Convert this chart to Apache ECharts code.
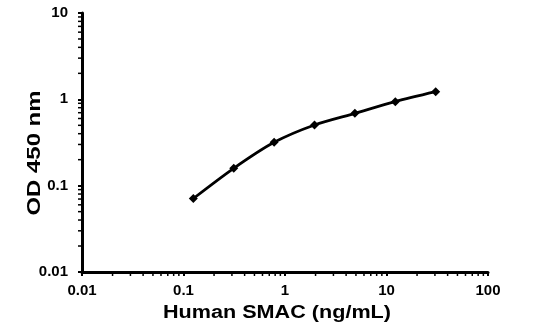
<!DOCTYPE html>
<html><head><meta charset="utf-8">
<script src="https://cdn.jsdelivr.net/npm/echarts@6/dist/echarts.min.js"></script>
<style>html,body{margin:0;padding:0;background:#fff}#c{width:543px;height:330px}</style>
</head><body><div id="c"></div>
<script>
const concentrations = [0.125, 0.3125, 0.78125, 1.953, 4.883, 12.21, 30.52];
const odValues = [0.071, 0.159, 0.318, 0.505, 0.689, 0.94, 1.225];
const xTickLabels = ['0.01', '0.1', '1', '10', '100'];
const yTickLabels = ['0.01', '0.1', '1', '10'];
const xTitle = 'Human SMAC (ng/mL)';
const yTitle = 'OD 450 nm';

const FONT = '"Liberation Sans", Arial, sans-serif';
const chart = echarts.init(document.getElementById('c'), null, {renderer: 'canvas'});
function fmt(list){ return v => { const s = list.find(t => Math.abs(Math.log10(parseFloat(t)) - Math.log10(v)) < 1e-6); return s || ''; }; }
const option = {
  animation: false,
  grid: {left: 82, right: 55, top: 13, bottom: 58, containLabel: false},
  xAxis: {
    type: 'log', logBase: 10, min: 0.01, max: 100,
    axisLine: {onZero: false, lineStyle: {color: '#000', width: 3}},
    axisTick: {show: true, inside: false, length: 4, lineStyle: {color: '#000', width: 2}},
    splitLine: {show: false},
    axisLabel: {fontFamily: FONT, fontWeight: 'bold', fontSize: 15, color: '#000', margin: 11, formatter: fmt(xTickLabels)}
  },
  yAxis: {
    type: 'log', logBase: 10, min: 0.01, max: 10,
    axisLine: {onZero: false, lineStyle: {color: '#000', width: 3}},
    axisTick: {show: true, inside: false, length: 4, lineStyle: {color: '#000', width: 2}},
    splitLine: {show: false},
    axisLabel: {fontFamily: FONT, fontWeight: 'bold', fontSize: 15, color: '#000', margin: 14, formatter: fmt(yTickLabels)}
  },
  series: [{
    type: 'line',
    data: concentrations.map((c, i) => [c, odValues[i]]),
    smooth: 0.3,
    symbol: 'diamond', symbolSize: 9,
    itemStyle: {color: '#000'},
    lineStyle: {color: '#000', width: 2.8}
  }]
};
chart.setOption(option);

const g = [];
// axis titles (wide bold lettering, as in the reference)
g.push({type: 'text', x: 277, y: 313, scaleX: 1.2, silent: true,
  style: {text: xTitle, font: 'bold 18px ' + FONT, fill: '#000', align: 'center', verticalAlign: 'middle'}});
g.push({type: 'text', x: 35, y: 153, rotation: Math.PI / 2, scaleX: 1.33, silent: true,
  style: {text: yTitle, font: 'bold 18px ' + FONT, fill: '#000', align: 'center', verticalAlign: 'middle'}});

// minor log ticks (2..9 in each decade), positioned through the library's scales
const yBase = chart.convertToPixel({yAxisIndex: 0}, 0.01);
const xBase = chart.convertToPixel({xAxisIndex: 0}, 0.01);
for (let e = -2; e < 2; e++) {
  for (let m = 2; m <= 9; m++) {
    const px = chart.convertToPixel({xAxisIndex: 0}, m * Math.pow(10, e));
    g.push({type: 'line', shape: {x1: px, y1: yBase + 1, x2: px, y2: yBase + 4}, style: {stroke: '#000', lineWidth: 1.5}, silent: true});
  }
}
for (let e = -2; e < 1; e++) {
  for (let m = 2; m <= 9; m++) {
    const py = chart.convertToPixel({yAxisIndex: 0}, m * Math.pow(10, e));
    g.push({type: 'line', shape: {x1: xBase - 4, y1: py, x2: xBase - 1, y2: py}, style: {stroke: '#000', lineWidth: 1.5}, silent: true});
  }
}
chart.setOption({graphic: g});
</script></body></html>
